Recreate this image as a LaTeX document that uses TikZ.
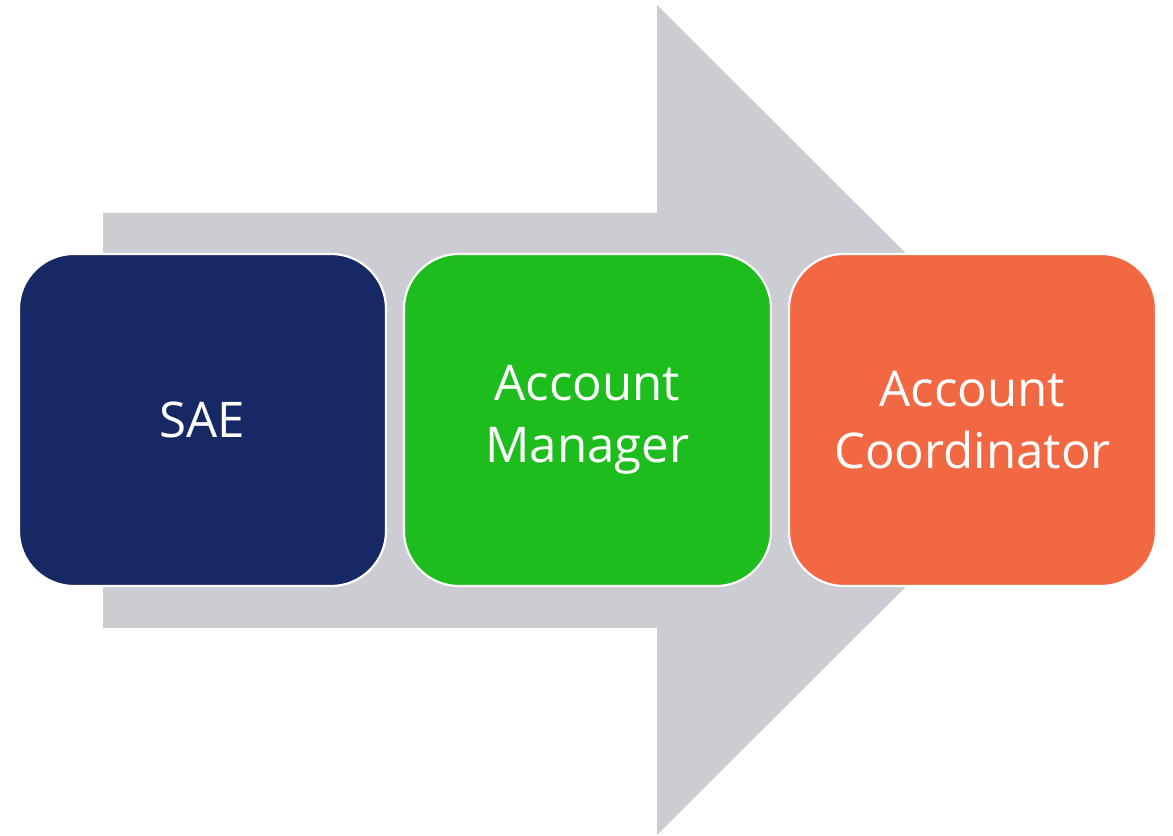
\documentclass[tikz,border=0pt]{standalone}
\usepackage{fontspec}
\setmainfont{Open Sans}
\usepackage{tikz}
\usetikzlibrary{positioning}
\definecolor{flowgrey}{HTML}{CBCDD2}
\definecolor{saeblue}{HTML}{172965}
\definecolor{amgreen}{HTML}{1EBD1E}
\definecolor{acorange}{HTML}{F26843}
\tikzset{
  stage/.style={shape=rectangle, rounded corners=1.1cm, draw=white, line width=1.2pt,
    minimum width=7.34cm, minimum height=6.64cm, inner sep=0pt, outer sep=0pt,
    text=white, align=center, font=\fontsize{28}{35}\selectfont},
}
\begin{document}
\begin{tikzpicture}
                \useasboundingbox (0,0) rectangle (23.46,16.72);
                % big arrow behind
                \fill[flowgrey] (2.06,12.46) -- (13.14,12.46) -- (13.14,16.62) -- (21.46,8.32)
                    -- (13.14,0.02) -- (13.14,4.16) -- (2.06,4.16) -- cycle;
                % stages
                \node[stage, fill=saeblue] (sae) at (4.05,8.32) {SAE};
                \node[stage, fill=amgreen, right=0.36cm of sae] (manager) {Account\\Manager};
                \node[stage, fill=acorange, right=0.36cm of manager] (coord) {Account\\Coordinator};
\end{tikzpicture}
\end{document}
